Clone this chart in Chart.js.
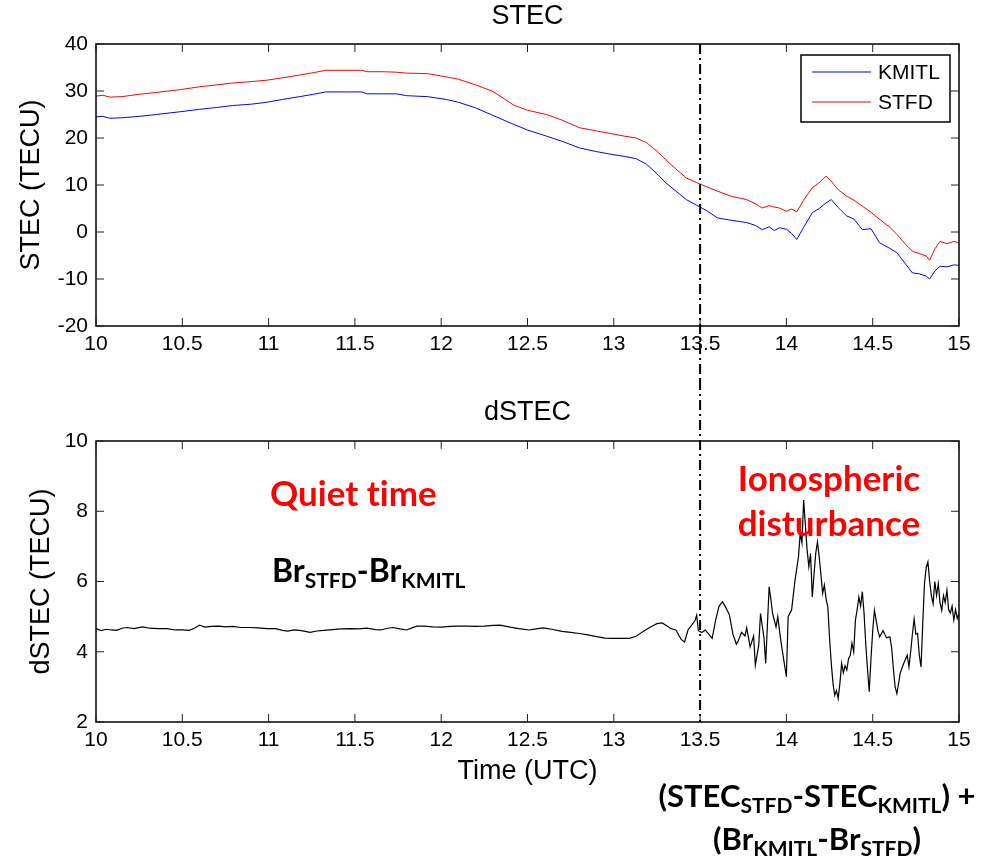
<!DOCTYPE html>
<html>
<head>
<meta charset="utf-8">
<script src="https://cdn.jsdelivr.net/npm/chart.js@4.4.1/dist/chart.umd.min.js"></script>
<style>
  body { margin: 0; background: #fff; }
  #wrap { position: relative; width: 983px; height: 860px; overflow: hidden; font-family: "Liberation Sans", Arial, sans-serif; }
  canvas { position: absolute; left: 0; }
  #top { top: 0; }
  #bottom { top: 380px; }
  .note { position: absolute; font-family: Lato, "Open Sans", sans-serif; font-weight: 700; line-height: 1; white-space: nowrap; font-variant-ligatures: none; }
  .red { color: #ff0000; }
  .note sub { font-size: 21px; vertical-align: -0.3em; line-height: 0; }
</style>
</head>
<body>
<div id="wrap">
  <canvas id="top" width="983" height="380"></canvas>
  <canvas id="bottom" width="983" height="480"></canvas>
  <div class="note red" style="left:270px; top:475px; font-size:35px;">Quiet time</div>
  <div class="note" style="left:272px; top:554px; font-size:32px;">Br<sub>STFD</sub>-Br<sub>KMITL</sub></div>
  <div class="note red" style="left:729px; top:455px; font-size:35px; text-align:center; width:200px; line-height:45px;">Ionospheric<br>disturbance</div>
  <div class="note" style="left:637px; top:780px; font-size:31px; text-align:center; width:360px;">(STEC<sub>STFD</sub>-STEC<sub>KMITL</sub>) +</div>
  <div class="note" style="left:637px; top:823px; font-size:31px; text-align:center; width:360px;">(Br<sub>KMITL</sub>-Br<sub>STFD</sub>)</div>
</div>
<script>
// STEC panel: time (UTC hours) and the two stations
const stecTime = [10.00, 10.04, 10.08, 10.15, 10.25, 10.35, 10.49, 10.60, 10.70, 10.79, 10.90, 10.99,
  11.08, 11.18, 11.26, 11.33, 11.45, 11.54, 11.57, 11.66, 11.74, 11.80, 11.92, 12.03, 12.10, 12.20,
  12.30, 12.42, 12.50, 12.61, 12.70, 12.80, 12.90, 12.99, 13.06, 13.13, 13.19, 13.25, 13.30, 13.36,
  13.42, 13.48, 13.54, 13.60, 13.68, 13.77, 13.82, 13.86, 13.90, 13.93, 13.96, 14.00, 14.03, 14.06,
  14.10, 14.15, 14.19, 14.23, 14.26, 14.30, 14.35, 14.39, 14.44, 14.49, 14.54, 14.60, 14.64, 14.69,
  14.73, 14.77, 14.81, 14.83, 14.86, 14.89, 14.93, 14.97, 15.00];
const kmitl = [24.5, 24.6, 24.2, 24.3, 24.6, 25.0, 25.6, 26.1, 26.5, 26.9, 27.2, 27.6,
  28.2, 28.8, 29.3, 29.8, 29.8, 29.8, 29.4, 29.4, 29.4, 29.0, 28.8, 28.2, 27.6, 26.4,
  24.8, 22.9, 21.7, 20.4, 19.3, 17.9, 17.1, 16.5, 16.1, 15.6, 14.4, 12.4, 10.5, 8.7,
  6.9, 5.7, 4.5, 3.0, 2.5, 2.0, 1.4, 0.5, 1.1, 0.3, 0.9, 0.6, -0.3, -1.6,
  1.0, 4.1, 5.0, 6.2, 6.9, 5.2, 3.4, 2.8, 0.5, 0.7, -2.3, -3.5, -4.4, -6.8,
  -8.7, -8.9, -9.4, -10.0, -8.3, -7.3, -7.4, -7.0, -7.1];
const stfd = [28.9, 29.1, 28.7, 28.8, 29.3, 29.7, 30.3, 30.9, 31.3, 31.7, 32.0, 32.3,
  32.8, 33.4, 33.9, 34.4, 34.4, 34.4, 34.1, 34.1, 34.0, 33.8, 33.7, 33.0, 32.5, 31.3,
  29.9, 27.0, 25.9, 25.0, 23.8, 22.2, 21.5, 20.9, 20.4, 20.0, 19.0, 17.2, 15.4, 13.4,
  11.5, 10.5, 9.6, 8.7, 7.6, 6.9, 6.0, 5.1, 5.6, 5.3, 5.1, 4.4, 4.9, 4.3,
  6.8, 9.4, 10.5, 11.9, 10.8, 9.0, 7.6, 6.8, 5.5, 4.2, 2.7, 1.0, -0.5, -2.6,
  -4.1, -4.6, -5.1, -6.0, -3.6, -2.0, -2.5, -2.0, -2.3];

// dSTEC panel
const dTime = [10.00, 10.03, 10.06, 10.09, 10.12, 10.15, 10.18, 10.22, 10.27, 10.31, 10.36, 10.41,
  10.46, 10.50, 10.54, 10.57, 10.60, 10.63, 10.67, 10.71, 10.75, 10.79, 10.84, 10.89, 10.94, 10.99,
  11.04, 11.08, 11.11, 11.15, 11.19, 11.24, 11.28, 11.32, 11.37, 11.42, 11.47, 11.52, 11.57, 11.62,
  11.65, 11.69, 11.72, 11.76, 11.80, 11.83, 11.86, 11.90, 11.95, 12.00, 12.05, 12.10, 12.15, 12.20,
  12.25, 12.30, 12.34, 12.40, 12.45, 12.51, 12.55, 12.59, 12.64, 12.70, 12.75, 12.80, 12.85, 12.90,
  12.95, 12.99, 13.04, 13.09, 13.13, 13.17, 13.21, 13.25, 13.28,
  13.30, 13.33, 13.36, 13.39, 13.41, 13.43, 13.45, 13.47, 13.48, 13.49, 13.51, 13.53, 13.55, 13.57,
  13.59, 13.61, 13.63, 13.65, 13.67, 13.69, 13.71, 13.72, 13.74, 13.76, 13.77, 13.79, 13.81, 13.82,
  13.84, 13.85, 13.87, 13.88, 13.90, 13.91, 13.92, 13.94, 13.95, 13.96, 13.97, 13.99, 14.00, 14.01,
  14.03, 14.05, 14.07, 14.08, 14.09, 14.10, 14.11, 14.12, 14.13, 14.14, 14.15, 14.16, 14.17, 14.18,
  14.19, 14.20, 14.21, 14.22, 14.23, 14.24, 14.25, 14.26, 14.27, 14.28, 14.29, 14.30, 14.31, 14.32,
  14.33, 14.34, 14.35, 14.36, 14.37, 14.38, 14.39, 14.40, 14.41, 14.42, 14.43, 14.44, 14.45, 14.46,
  14.47, 14.48, 14.49, 14.50, 14.51, 14.52, 14.53, 14.54, 14.56, 14.58, 14.60, 14.61, 14.62, 14.63,
  14.64, 14.65, 14.66, 14.68, 14.70, 14.71, 14.72, 14.73, 14.74, 14.75, 14.76, 14.77, 14.78, 14.79,
  14.80, 14.81, 14.82, 14.83, 14.84, 14.85, 14.86, 14.87, 14.88, 14.89, 14.90, 14.91, 14.92, 14.93,
  14.94, 14.95, 14.96, 14.97, 14.98, 14.99, 15.00];
const dstec = [4.66, 4.60, 4.64, 4.62, 4.61, 4.67, 4.69, 4.66, 4.71, 4.67, 4.66, 4.66,
  4.62, 4.62, 4.61, 4.67, 4.76, 4.70, 4.72, 4.73, 4.71, 4.72, 4.69, 4.69, 4.68, 4.66,
  4.66, 4.61, 4.59, 4.62, 4.60, 4.55, 4.59, 4.61, 4.63, 4.65, 4.66, 4.65, 4.67, 4.63,
  4.62, 4.67, 4.69, 4.65, 4.62, 4.68, 4.73, 4.73, 4.71, 4.70, 4.72, 4.73, 4.73, 4.72,
  4.73, 4.75, 4.76, 4.70, 4.66, 4.62, 4.65, 4.68, 4.64, 4.58, 4.55, 4.52, 4.48, 4.43,
  4.39, 4.38, 4.38, 4.38, 4.44, 4.58, 4.70, 4.80, 4.82,
  4.76, 4.66, 4.62, 4.35, 4.28, 4.62, 4.75, 4.88, 5.04, 4.60, 4.55, 4.62, 4.50, 4.38,
  4.90, 5.30, 5.42, 5.25, 5.05, 4.50, 4.22, 4.30, 4.55, 4.45, 4.68, 4.14, 4.45, 3.62,
  4.20, 5.09, 4.40, 3.67, 5.85, 5.50, 5.09, 4.70, 5.00, 4.60, 4.24, 3.60, 3.29, 5.00,
  5.19, 6.04, 6.70, 7.37, 7.10, 8.32, 7.60, 6.90, 6.42, 6.80, 5.56, 6.20, 6.80, 7.13,
  6.70, 6.20, 5.66, 5.90, 5.50, 5.28, 4.40, 3.67, 3.10, 2.76, 2.90, 2.67, 3.10, 3.67,
  3.40, 3.60, 3.48, 3.80, 3.90, 4.24, 4.00, 4.90, 5.20, 5.56, 5.30, 5.71, 5.09, 4.20,
  3.50, 2.86, 3.80, 4.60, 5.18, 4.90, 4.60, 4.42, 4.60, 4.40, 4.42, 4.10, 3.50, 3.00,
  2.81, 3.10, 3.40, 3.67, 3.90, 3.57, 4.00, 4.50, 4.93, 4.50, 4.52, 3.90, 3.57, 4.80,
  5.94, 6.40, 6.56, 6.00, 5.60, 5.37, 6.00, 5.60, 5.94, 5.40, 5.18, 5.60, 5.40, 5.75,
  5.20, 5.10, 5.30, 4.90, 5.20, 4.95, 5.09];

const xTicks = [10, 10.5, 11, 11.5, 12, 12.5, 13, 13.5, 14, 14.5, 15];
const eventTime = 13.5;

const FONT = '"Liberation Sans", Arial, sans-serif';
const toXY = (xs, ys) => xs.map((t, i) => ({ x: t, y: ys[i] }));

// MATLAB-like frame: box, inward ticks, dash-dot event line, title, legend
const matlabFrame = {
  id: 'matlabFrame',
  afterDatasetsDraw(chart, args, opts) {
    const { ctx, chartArea: a, scales: { x, y } } = chart;
    ctx.save();
    ctx.strokeStyle = '#000';
    ctx.lineWidth = 1.5;
    ctx.strokeRect(a.left, a.top, a.right - a.left, a.bottom - a.top);

    ctx.lineWidth = 1;
    ctx.strokeStyle = '#222';
    ctx.beginPath();
    x.ticks.forEach(t => {
      const px = x.getPixelForValue(t.value);
      ctx.moveTo(px, a.bottom); ctx.lineTo(px, a.bottom - 8);
      ctx.moveTo(px, a.top); ctx.lineTo(px, a.top + 8);
    });
    y.ticks.forEach(t => {
      const py = y.getPixelForValue(t.value);
      ctx.moveTo(a.left, py); ctx.lineTo(a.left + 8, py);
      ctx.moveTo(a.right, py); ctx.lineTo(a.right - 8, py);
    });
    ctx.stroke();

    const ex = x.getPixelForValue(opts.eventAt);
    ctx.strokeStyle = '#000';
    ctx.lineWidth = 2;
    ctx.setLineDash([10, 4, 2, 4]);
    ctx.beginPath();
    ctx.moveTo(ex, opts.lineUp ? 0 : a.top);
    ctx.lineTo(ex, opts.lineDown ? chart.height : a.bottom);
    ctx.stroke();
    ctx.setLineDash([]);

    ctx.fillStyle = '#000';
    ctx.font = '27px ' + FONT;
    ctx.textAlign = 'center';
    ctx.textBaseline = 'middle';
    ctx.fillText(opts.title, (a.left + a.right) / 2, opts.titleY);

    if (opts.legend) {
      const L = opts.legend;
      ctx.fillStyle = '#fff';
      ctx.fillRect(L.x, L.y, L.w, L.h);
      ctx.lineWidth = 1.5;
      ctx.strokeStyle = '#000';
      ctx.strokeRect(L.x, L.y, L.w, L.h);
      ctx.font = '21px ' + FONT;
      ctx.textAlign = 'left';
      chart.data.datasets.forEach((ds, i) => {
        const ly = L.y + 17 + i * 30;
        ctx.strokeStyle = ds.borderColor;
        ctx.lineWidth = 1;
        ctx.beginPath();
        ctx.moveTo(L.x + 11, ly); ctx.lineTo(L.x + 70, ly);
        ctx.stroke();
        ctx.fillStyle = '#000';
        ctx.fillText(ds.label, L.x + 77, ly + 1);
      });
    }
    ctx.restore();
  }
};

function axes(yMin, yMax, yStep, yTitle, yTitlePad, xTitle, xHeight) {
  return {
    x: {
      type: 'linear', min: 10, max: 15,
      afterBuildTicks: s => { s.ticks = xTicks.map(v => ({ value: v })); },
      ticks: { color: '#000', font: { family: FONT, size: 21 }, padding: 6, maxRotation: 0, callback: v => String(v) },
      grid: { display: false, drawTicks: false },
      border: { display: false },
      title: { display: !!xTitle, text: xTitle, color: '#000', font: { family: FONT, size: 27 }, padding: 0 },
      afterFit: s => { s.height = xHeight; }
    },
    y: {
      min: yMin, max: yMax,
      ticks: { stepSize: yStep, color: '#000', font: { family: FONT, size: 21 }, padding: 8 },
      grid: { display: false, drawTicks: false },
      border: { display: false },
      title: { display: true, text: yTitle, color: '#000', font: { family: FONT, size: 27 }, padding: { top: yTitlePad, bottom: 0 } },
      afterFit: s => { s.width = 96; }
    }
  };
}

new Chart(document.getElementById('top'), {
  type: 'line',
  data: {
    datasets: [
      { label: 'KMITL', data: toXY(stecTime, kmitl), borderColor: '#0000ff', borderWidth: 1, pointRadius: 0 },
      { label: 'STFD', data: toXY(stecTime, stfd), borderColor: '#ff0000', borderWidth: 1, pointRadius: 0 }
    ]
  },
  options: {
    responsive: false,
    animation: false,
    layout: { padding: { top: 44, right: 24, bottom: 0, left: 0 } },
    plugins: {
      legend: { display: false },
      tooltip: { enabled: false },
      matlabFrame: { eventAt: eventTime, lineUp: false, lineDown: true, title: 'STEC', titleY: 17,
        legend: { x: 801, y: 55, w: 149, h: 67 } }
    },
    scales: axes(-20, 40, 10, 'STEC (TECU)', 15, '', 54)
  },
  plugins: [matlabFrame]
});

new Chart(document.getElementById('bottom'), {
  type: 'line',
  data: {
    datasets: [
      { label: 'dSTEC', data: toXY(dTime, dstec), borderColor: '#000', borderWidth: 1.2, pointRadius: 0 }
    ]
  },
  options: {
    responsive: false,
    animation: false,
    layout: { padding: { top: 61, right: 24, bottom: 72, left: 0 } },
    plugins: {
      legend: { display: false },
      tooltip: { enabled: false },
      matlabFrame: { eventAt: eventTime, lineUp: true, lineDown: false, title: 'dSTEC', titleY: 33 }
    },
    scales: axes(2, 10, 2, 'dSTEC (TECU)', 25, 'Time (UTC)', 66)
  },
  plugins: [matlabFrame]
});
</script>
</body>
</html>
